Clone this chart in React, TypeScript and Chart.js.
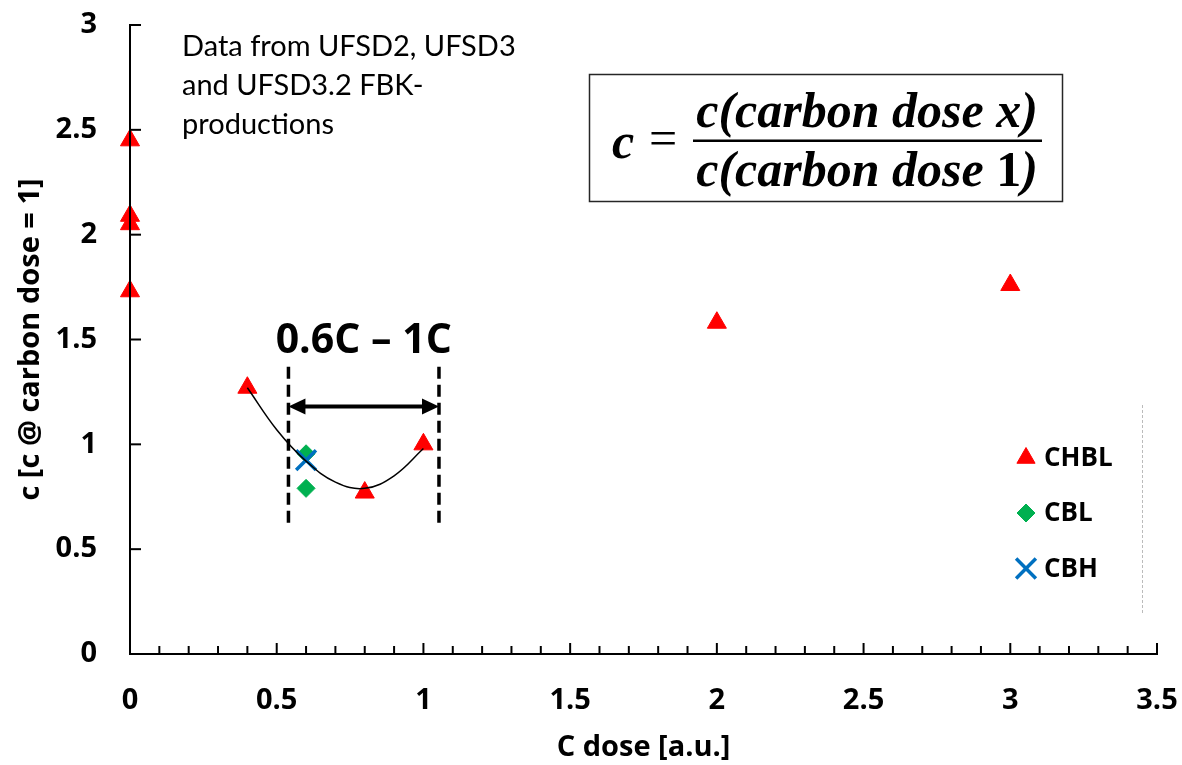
import React, { useEffect, useRef } from 'react';
import { Chart, registerables } from 'chart.js';
import { drawPoint } from 'chart.js/helpers';

Chart.register(...registerables);

// ---- data ----
const CHBL_X = [0, 0, 0, 0, 0.4, 0.8, 1, 2, 3];
const CHBL_Y = [2.45, 2.09, 2.05, 1.73, 1.27, 0.77, 1.0, 1.58, 1.76];
const CBL_X = [0.6, 0.6];
const CBL_Y = [0.955, 0.79];
const CBH_X = [0.6];
const CBH_Y = [0.925];
// trendline points
const TREND_X = [0.4, 0.5, 0.6, 0.7, 0.8, 0.9, 1.0];
const TREND_Y = [1.27, 1.07, 0.92, 0.82, 0.79, 0.85, 0.98];

const SERIES_NAMES = ['CHBL', 'CBL', 'CBH'];
const X_TICKS = [0, 0.5, 1, 1.5, 2, 2.5, 3, 3.5];
const Y_TICKS = [0, 0.5, 1, 1.5, 2, 2.5, 3];
const X_TITLE = 'C dose [a.u.]';
const Y_TITLE = 'c [c @ carbon dose = 1]';

// annotation: range 0.6C - 1C
const RANGE_X = [0.54, 1.053];
const RANGE_Y = [0.625, 1.37];
const ARROW_Y = 1.18;
const RANGE_LABEL = '0.6C \u2013 1C';
const NOTE_LINES = ['Data from UFSD2, UFSD3', 'and UFSD3.2 FBK-', 'productions'];
const FORMULA_NUM = 'c(carbon dose x)';
const FORMULA_DEN = ['c(carbon dose ', '1', ')'];

const RED = '#FF0000';
const GREEN = '#00B050';
const BLUE = '#0070C0';
const SANS = '"Open Sans", "DejaVu Sans", sans-serif';

const overlayPlugin = {
  id: 'overlay',
  afterDatasetsDraw(chart: any) {
    const { ctx, scales } = chart;
    const xs = scales.x;
    const ys = scales.y;
    const x0 = xs.getPixelForValue(0);
    const y0 = ys.getPixelForValue(0);
    const yTop = ys.getPixelForValue(3);
    const xEnd = xs.getPixelForValue(3.5);
    ctx.save();
    ctx.strokeStyle = '#000';
    ctx.lineWidth = 2;
    // axis lines redrawn over markers (as in the reference)
    ctx.beginPath();
    ctx.moveTo(x0, yTop);
    ctx.lineTo(x0, y0 + 1);
    ctx.moveTo(x0 - 1, y0);
    ctx.lineTo(xEnd + 1, y0);
    ctx.stroke();
    // x ticks (inside), minor every 0.1
    for (let i = 1; i <= 35; i++) {
      const px = xs.getPixelForValue(i / 10);
      const len = i % 5 === 0 ? 11 : 8;
      ctx.beginPath();
      ctx.moveTo(px, y0);
      ctx.lineTo(px, y0 - len);
      ctx.stroke();
    }
    // y ticks (inside)
    Y_TICKS.forEach((v) => {
      if (v === 0) return;
      const py = ys.getPixelForValue(v);
      ctx.beginPath();
      ctx.moveTo(x0, py);
      ctx.lineTo(x0 + 11, py);
      ctx.stroke();
    });

    // dashed range lines
    ctx.lineWidth = 3.5;
    ctx.setLineDash([12, 6]);
    RANGE_X.forEach((v) => {
      const px = xs.getPixelForValue(v);
      ctx.beginPath();
      ctx.moveTo(px, ys.getPixelForValue(RANGE_Y[1]));
      ctx.lineTo(px, ys.getPixelForValue(RANGE_Y[0]));
      ctx.stroke();
    });
    ctx.setLineDash([]);

    // double arrow
    const ax0 = xs.getPixelForValue(RANGE_X[0]);
    const ax1 = xs.getPixelForValue(RANGE_X[1]);
    const ay = ys.getPixelForValue(ARROW_Y);
    const head = 17;
    const hh = 8;
    ctx.lineWidth = 4;
    ctx.beginPath();
    ctx.moveTo(ax0 + head - 2, ay);
    ctx.lineTo(ax1 - head + 2, ay);
    ctx.stroke();
    ctx.fillStyle = '#000';
    ctx.beginPath();
    ctx.moveTo(ax0, ay);
    ctx.lineTo(ax0 + head, ay - hh);
    ctx.lineTo(ax0 + head, ay + hh);
    ctx.closePath();
    ctx.fill();
    ctx.beginPath();
    ctx.moveTo(ax1, ay);
    ctx.lineTo(ax1 - head, ay - hh);
    ctx.lineTo(ax1 - head, ay + hh);
    ctx.closePath();
    ctx.fill();

    // range label
    ctx.font = `bold 41px ${SANS}`;
    ctx.textAlign = 'center';
    ctx.textBaseline = 'alphabetic';
    ctx.fillText(RANGE_LABEL, (ax0 + ax1) / 2, 353);

    // note text
    ctx.font = '29px Lato, "Open Sans", sans-serif';
    ctx.textAlign = 'left';
    NOTE_LINES.forEach((t, i) => ctx.fillText(t, 182, 56 + i * 39));

    // formula box
    ctx.strokeStyle = '#262626';
    ctx.lineWidth = 1.5;
    ctx.strokeRect(589.5, 74.5, 473, 127);
    const fIt = 'italic bold 50px "Liberation Serif", "DejaVu Serif", serif';
    const fUp = 'bold 50px "Liberation Serif", "DejaVu Serif", serif';
    const fEq = '50px "Liberation Serif", "DejaVu Serif", serif';
    ctx.fillStyle = '#000';
    ctx.font = fIt;
    ctx.textAlign = 'left';
    ctx.fillText('c', 612, 158);
    ctx.font = fEq;
    ctx.textAlign = 'center';
    ctx.fillText('=', 663, 155);
    ctx.font = fIt;
    ctx.fillText(FORMULA_NUM, 867, 127);
    ctx.fillRect(693, 139.5, 349, 2.5);
    const fonts = [fIt, fUp, fIt];
    const widths = FORMULA_DEN.map((t, i) => {
      ctx.font = fonts[i];
      return ctx.measureText(t).width;
    });
    let cx = 867 - widths.reduce((a, b) => a + b, 0) / 2;
    ctx.textAlign = 'left';
    FORMULA_DEN.forEach((t, i) => {
      ctx.font = fonts[i];
      ctx.fillText(t, cx, 186);
      cx += widths[i];
    });

    // legend
    const legendY = [458, 513, 568.5];
    chart.data.datasets.slice(0, 3).forEach((ds: any, i: number) => {
      ctx.fillStyle = ds.backgroundColor;
      ctx.strokeStyle = ds.borderColor;
      ctx.lineWidth = ds.borderWidth;
      drawPoint(ctx, { pointStyle: ds.pointStyle, rotation: 0, radius: ds.legendRadius, borderWidth: ds.borderWidth }, 1026, legendY[i]);
      ctx.fillStyle = '#000';
      ctx.font = `bold 26px ${SANS}`;
      ctx.textAlign = 'left';
      ctx.textBaseline = 'middle';
      ctx.fillText(SERIES_NAMES[i], 1044, legendY[i] + 1);
    });
    // faint dashed frame edge
    ctx.strokeStyle = '#BBBBBB';
    ctx.lineWidth = 1;
    ctx.setLineDash([3, 2]);
    ctx.beginPath();
    ctx.moveTo(1142.5, 405);
    ctx.lineTo(1142.5, 615);
    ctx.stroke();
    ctx.restore();
  },
};

export default function App() {
  const ref = useRef<HTMLCanvasElement>(null);
  useEffect(() => {
    const canvas = ref.current;
    if (!canvas) return;
    const tickFont = { family: SANS, size: 29, weight: 'bold' as const };
    const chart = new Chart(canvas, {
      type: 'scatter',
      data: {
        datasets: [
          {
            label: SERIES_NAMES[0],
            data: CHBL_X.map((x, i) => ({ x, y: CHBL_Y[i] })),
            pointStyle: 'triangle',
            pointRadius: 11,
            backgroundColor: RED,
            borderColor: RED,
            borderWidth: 1,
            legendRadius: 10.5,
            clip: false,
            order: 3,
          } as any,
          {
            label: SERIES_NAMES[1],
            data: CBL_X.map((x, i) => ({ x, y: CBL_Y[i] })),
            pointStyle: 'rectRot',
            pointRadius: 9,
            backgroundColor: GREEN,
            borderColor: GREEN,
            borderWidth: 1,
            legendRadius: 9,
            clip: false,
            order: 2,
          } as any,
          {
            label: SERIES_NAMES[2],
            data: CBH_X.map((x, i) => ({ x, y: CBH_Y[i] })),
            pointStyle: 'crossRot',
            pointRadius: 14,
            backgroundColor: BLUE,
            borderColor: BLUE,
            borderWidth: 3.5,
            legendRadius: 14,
            clip: false,
            order: 1,
          } as any,
          {
            label: 'trend',
            data: TREND_X.map((x, i) => ({ x, y: TREND_Y[i] })),
            showLine: true,
            tension: 0.4,
            pointRadius: 0,
            borderColor: '#000',
            borderWidth: 1.5,
            backgroundColor: 'transparent',
            clip: false,
            order: 0,
          } as any,
        ],
      },
      options: {
        responsive: false,
        animation: false,
        devicePixelRatio: 1,
        events: [],
        layout: { padding: { left: 0, top: 25, right: 25, bottom: 0 } },
        plugins: { legend: { display: false }, tooltip: { enabled: false } },
        scales: {
          x: {
            type: 'linear',
            min: 0,
            max: 3.5,
            afterBuildTicks: (s: any) => {
              s.ticks = X_TICKS.map((value) => ({ value }));
            },
            afterFit: (s: any) => {
              s.height = 111;
              s.paddingLeft = 0;
              s.paddingRight = 0;
            },
            ticks: {
              font: tickFont,
              color: '#000',
              padding: 29,
              autoSkip: false,
              maxRotation: 0,
              callback: (v: any) => String(v),
            },
            grid: { display: false, drawTicks: false },
            border: { display: true, color: '#000', width: 2 },
            title: {
              display: true,
              text: X_TITLE,
              color: '#000',
              font: tickFont,
              padding: { top: 0, bottom: 0 },
            },
          },
          y: {
            type: 'linear',
            min: 0,
            max: 3,
            afterBuildTicks: (s: any) => {
              s.ticks = Y_TICKS.map((value) => ({ value }));
            },
            afterFit: (s: any) => {
              s.width = 130;
              s.paddingTop = 0;
              s.paddingBottom = 0;
            },
            ticks: {
              font: tickFont,
              color: '#000',
              padding: 33,
              callback: (v: any) => String(v),
            },
            grid: { display: false, drawTicks: false },
            border: { display: true, color: '#000', width: 2 },
            title: {
              display: true,
              text: Y_TITLE,
              color: '#000',
              font: tickFont,
              padding: { top: 13, bottom: 0 },
            },
          },
        },
      } as any,
      plugins: [overlayPlugin],
    });
    return () => chart.destroy();
  }, []);
  return (
    <div style={{ position: 'fixed', left: 0, top: 0, width: 1182, height: 765, background: '#fff' }}>
      <canvas ref={ref} width={1182} height={765} style={{ display: 'block', width: 1182, height: 765 }} />
    </div>
  );
}
